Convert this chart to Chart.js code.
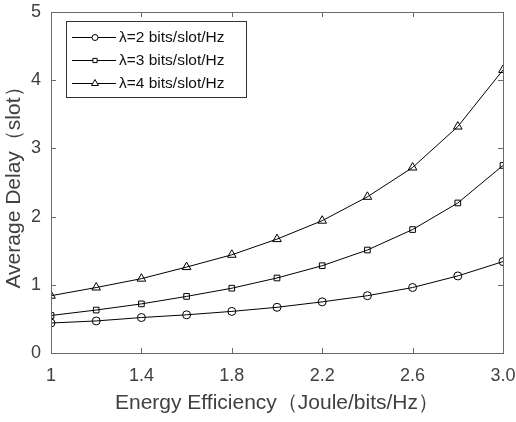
<!DOCTYPE html>
<html><head><meta charset="utf-8">
<script src="https://cdn.jsdelivr.net/npm/chart.js@4/dist/chart.umd.min.js"></script>
<style>html,body{margin:0;padding:0;background:#fff}#wrap{width:516px;height:422px}</style>
</head><body><div id="wrap"><canvas id="c" width="516" height="422"></canvas></div>
<script>
const efficiency = [1.0, 1.2, 1.4, 1.6, 1.8, 2.0, 2.2, 2.4, 2.6, 2.8, 3.0];
const delayL2 = [0.44, 0.47, 0.52, 0.56, 0.61, 0.67, 0.75, 0.84, 0.96, 1.13, 1.34];
const delayL3 = [0.55, 0.63, 0.72, 0.83, 0.95, 1.10, 1.28, 1.51, 1.81, 2.20, 2.75];
const delayL4 = [0.84, 0.96, 1.09, 1.26, 1.44, 1.67, 1.94, 2.29, 2.72, 3.32, 4.15];
const seriesNames = ['λ=2 bits/slot/Hz', 'λ=3 bits/slot/Hz', 'λ=4 bits/slot/Hz'];
const xTickValues = [1, 1.4, 1.8, 2.2, 2.6, 3.0];
const xTickLabels = ['1', '1.4', '1.8', '2.2', '2.6', '3.0'];
const yTickValues = [0, 1, 2, 3, 4, 5];
const xTitle = 'Energy Efficiency（Joule/bits/Hz）';
const yTitle = 'Average Delay（slot）';

const FONT = '"Liberation Sans", Arial, sans-serif';
const TEXT = '#404040';
const AXIS = '#6a6a6a';
const styles = ['circle', 'rect', 'triangle'];
const radii = [4, 4, 5];

function pts(arr){ return efficiency.map((x,i)=>({x:x, y:arr[i]})); }
const datasets = [delayL2, delayL3, delayL4].map((arr,i)=>({
  label: seriesNames[i], data: pts(arr),
  borderColor:'#000', borderWidth:1, backgroundColor:'rgba(0,0,0,0)',
  pointStyle: styles[i], pointRadius: radii[i], pointBorderWidth:1,
  pointBorderColor:'#000', pointBackgroundColor:'rgba(0,0,0,0)',
  tension:0
}));

const frame = {
  id:'frame',
  afterDatasetsDraw(chart){
    const ctx = chart.ctx, a = chart.chartArea, xs = chart.scales.x, ys = chart.scales.y;
    ctx.save();
    ctx.strokeStyle = AXIS; ctx.lineWidth = 1;
    ctx.strokeRect(Math.round(a.left)+0.5, Math.round(a.top)+0.5, Math.round(a.right-a.left), Math.round(a.bottom-a.top));
    const L = 5;
    ctx.beginPath();
    xTickValues.forEach(v=>{
      const p = Math.round(xs.getPixelForValue(v))+0.5;
      ctx.moveTo(p, a.bottom); ctx.lineTo(p, a.bottom-L);
      ctx.moveTo(p, a.top); ctx.lineTo(p, a.top+L);
    });
    yTickValues.forEach(v=>{
      const p = Math.round(ys.getPixelForValue(v))+0.5;
      ctx.moveTo(a.left, p); ctx.lineTo(a.left+L, p);
      ctx.moveTo(a.right, p); ctx.lineTo(a.right-L, p);
    });
    ctx.stroke();
    // legend
    const bx = 66, by = 21, bw = 180, bh = 76;
    ctx.fillStyle = '#fff';
    ctx.fillRect(bx, by, bw, bh);
    ctx.strokeStyle = '#333';
    ctx.strokeRect(bx+0.5, by+0.5, bw, bh);
    ctx.font = '15.5px ' + FONT;
    ctx.textBaseline = 'middle';
    const rows = [36.5, 60, 83];
    chart.data.datasets.forEach((ds,i)=>{
      const yy = Math.round(rows[i])+0.5;
      ctx.strokeStyle = '#000'; ctx.lineWidth = 1;
      ctx.beginPath(); ctx.moveTo(72, yy); ctx.lineTo(116, yy); ctx.stroke();
      ctx.fillStyle = '#fff';
      Chart.helpers.drawPoint(ctx, {pointStyle: ds.pointStyle, radius: radii[i]-1, borderWidth:1}, 95, yy);
      ctx.fillStyle = '#111';
      ctx.fillText(ds.label, 119, rows[i]+1);
    });
    ctx.restore();
  }
};

new Chart(document.getElementById('c'), {
  type:'line',
  data:{ datasets },
  options:{
    responsive:false, animation:false, devicePixelRatio:1,
    layout:{ padding:{ left:0, top:12, right:13, bottom:0 } },
    plugins:{ legend:{display:false}, tooltip:{enabled:false} },
    scales:{
      x:{ type:'linear', min:1, max:3,
        afterBuildTicks(s){ s.ticks = xTickValues.map(v=>({value:v})); },
        afterFit(s){ s.height = 69; s.paddingLeft = 0; s.paddingRight = 0; },
        grid:{ display:false, drawTicks:false }, border:{display:false},
        ticks:{ color:TEXT, font:{family:FONT, size:18}, padding:12, maxRotation:0,
          callback:(v)=>{ const k = xTickValues.findIndex(t=>Math.abs(t-v)<1e-9); return k>=0 ? xTickLabels[k] : ''; } },
        title:{ display:true, text:xTitle, color:TEXT, font:{family:FONT, size:21}, padding:{top:0,bottom:6} }
      },
      y:{ type:'linear', min:0, max:5,
        afterBuildTicks(s){ s.ticks = yTickValues.map(v=>({value:v})); },
        afterFit(s){ s.width = 51; s.paddingTop = 0; s.paddingBottom = 0; },
        grid:{ display:false, drawTicks:false }, border:{display:false},
        ticks:{ color:TEXT, font:{family:FONT, size:18}, padding:10 },
        title:{ display:true, text:yTitle, color:TEXT, font:{family:FONT, size:21}, padding:{top:2,bottom:0} }
      }
    }
  },
  plugins:[frame]
});
</script></body></html>
